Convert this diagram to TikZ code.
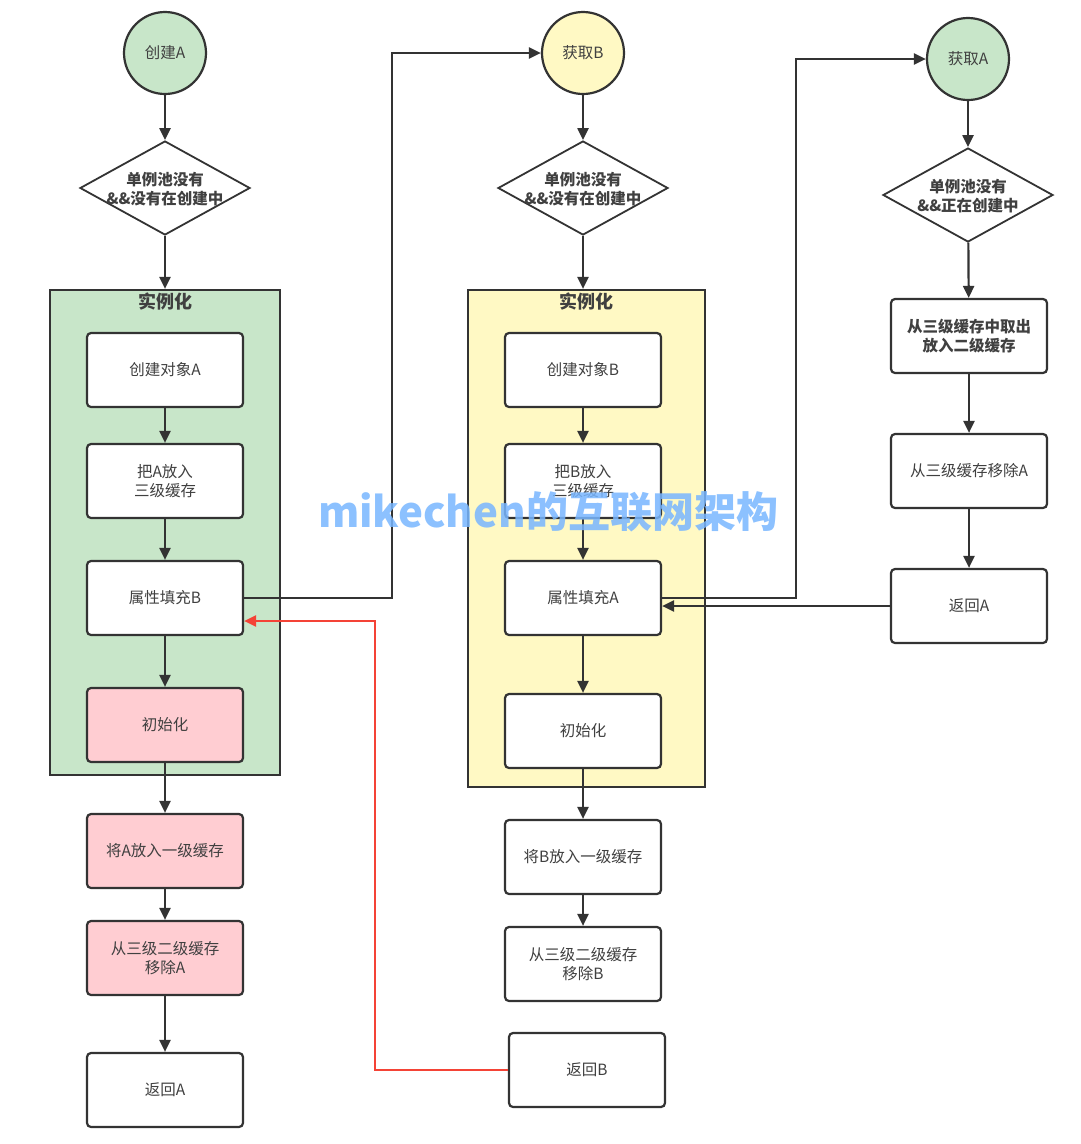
\documentclass[tikz,border=0pt]{standalone}
\usepackage{fontspec}
\setmainfont{Noto Sans CJK SC}
\usetikzlibrary{arrows.meta,positioning,shapes.geometric}
\definecolor{linegray}{RGB}{51,51,51}
\definecolor{textgray}{RGB}{64,64,64}
\definecolor{fillgreen}{RGB}{200,230,201}
\definecolor{fillyellow}{RGB}{255,249,196}
\definecolor{fillpink}{RGB}{255,205,210}
\definecolor{linered}{RGB}{244,67,54}
\definecolor{markblue}{RGB}{120,182,255}

\begin{document}
\begin{tikzpicture}[x=1pt, y=-1pt,
    every node/.style={font=\fontsize{15.5}{19}\selectfont, text=textgray},
    flow/.style={draw=linegray, line width=2.2pt, -{Triangle[length=12pt,width=11pt]}},
    stepbox/.style={draw=linegray, line width=2.2pt, rounded corners=4pt, fill=white,
      minimum width=156pt, minimum height=74pt, align=center, inner sep=0pt},
    startnode/.style={circle, draw=linegray, line width=2.2pt, minimum size=82pt, inner sep=0pt},
    check/.style={diamond, draw=linegray, line width=1.8pt, fill=white,
      minimum width=170pt, minimum height=94pt, inner sep=0pt},
    checktext/.style={align=center, font=\fontsize{15.5}{19}\selectfont\bfseries},
    group/.style={draw=linegray, line width=2.2pt, inner sep=0pt},
    grouptitle/.style={font=\fontsize{18}{20}\selectfont\bfseries}]
  \useasboundingbox (0,0) rectangle (1080,1144);

  % containers
  \node[group, fill=fillgreen, minimum width=230pt, minimum height=485pt] (instA) at (165,532.5) {};
  \node[grouptitle] (instAtitle) at (165,302) {实例化};
  \node[group, fill=fillyellow, minimum width=237pt, minimum height=497pt] (instB) at (586.5,538.5) {};
  \node[grouptitle] (instBtitle) at (586.5,302) {实例化};

  % left column: create A
  \node[startnode, fill=fillgreen] (createA) at (165,53) {创建A};
  \node[check] (checkA) at (165,188) {};
  \node[checktext] (checkAtext) at (165,189) {单例池没有\\\&\&没有在创建中};
  \node[stepbox] (newA) at (165,370) {创建对象A};
  \node[stepbox] (cacheA) at (165,481) {把A放入\\三级缓存};
  \node[stepbox] (fillB) at (165,598) {属性填充B};
  \node[stepbox, fill=fillpink] (initA) at (165,725) {初始化};
  \node[stepbox, fill=fillpink] (firstA) at (165,851) {将A放入一级缓存};
  \node[stepbox, fill=fillpink] (removeA) at (165,958) {从三级二级缓存\\移除A};
  \node[stepbox] (retA) at (165,1090) {返回A};

  % middle column: get B
  \node[startnode, fill=fillyellow] (getB) at (583,53) {获取B};
  \node[check] (checkB) at (583,188) {};
  \node[checktext] (checkBtext) at (583,189) {单例池没有\\\&\&没有在创建中};
  \node[stepbox] (newB) at (583,370) {创建对象B};
  \node[stepbox] (cacheB) at (583,481) {把B放入\\三级缓存};
  \node[stepbox] (fillA) at (583,598) {属性填充A};
  \node[stepbox] (initB) at (583,731) {初始化};
  \node[stepbox] (firstB) at (583,857) {将B放入一级缓存};
  \node[stepbox] (removeB) at (583,964) {从三级二级缓存\\移除B};
  \node[stepbox] (retB) at (587,1070) {返回B};

  % right column: get A
  \node[startnode, fill=fillgreen] (getA) at (968,59) {获取A};
  \node[check] (checkC) at (968,195) {};
  \node[checktext] (checkCtext) at (968,196) {单例池没有\\\&\&正在创建中};
  \node[stepbox, font=\fontsize{15.5}{19}\selectfont\bfseries] (moveA) at (969,336) {从三级缓存中取出\\放入二级缓存};
  \node[stepbox] (dropA) at (969,471) {从三级缓存移除A};
  \node[stepbox] (retA2) at (969,606) {返回A};

  % straight arrows
  \draw[flow] (createA) -- (checkA);
  \draw[flow] (checkA) -- (instA.north);
  \draw[flow] (newA) -- (cacheA);
  \draw[flow] (cacheA) -- (fillB);
  \draw[flow] (fillB) -- (initA);
  \draw[flow] (initA) -- (firstA);
  \draw[flow] (firstA) -- (removeA);
  \draw[flow] (removeA) -- (retA);

  \draw[flow] (getB) -- (checkB);
  \draw[flow] (checkB) -- (instB.north -| checkB);
  \draw[flow] (newB) -- (cacheB);
  \draw[flow] (cacheB) -- (fillA);
  \draw[flow] (fillA) -- (initB);
  \draw[flow] (initB) -- (firstB);
  \draw[flow] (firstB) -- (removeB);

  \draw[flow] (getA) -- (checkC);
  \draw[flow] (checkC) -- (moveA);
  \draw[flow] (moveA) -- (dropA);
  \draw[flow] (dropA) -- (retA2);

  % jumps between columns
  \draw[flow] (fillB.east) -- ++(148,0) |- (getB.west);
  \draw[flow] (fillA.east) -- ++(134,0) |- (getA.west);
  \draw[flow] (retA2.west) -- (retA2.west -| fillA.east);
  \draw[flow, draw=linered] (retB.west) -- ++(-133,0) |- ([yshift=-23pt]fillB.east);

  % watermark
  \node[font=\fontsize{42}{44}\selectfont\bfseries, text=markblue, text opacity=0.85] (mark) at (548,512) {mikechen的互联网架构};
\end{tikzpicture}
\end{document}
